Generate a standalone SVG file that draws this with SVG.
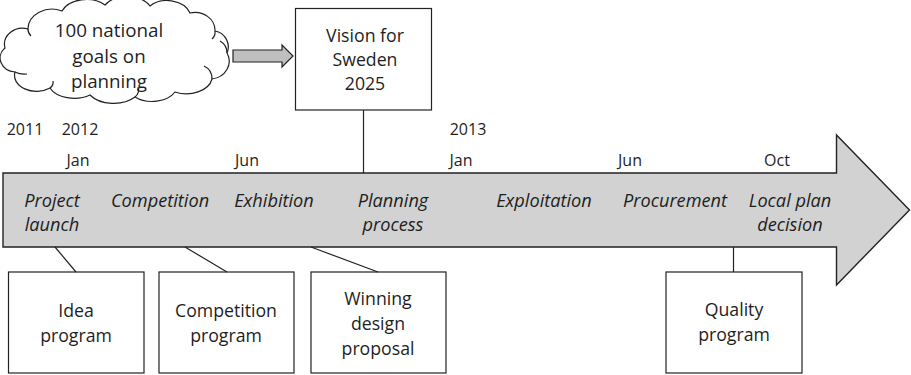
<svg xmlns="http://www.w3.org/2000/svg" width="911" height="375" viewBox="0 0 911 375">
<style>
.t{font-family:"Open Sans","Liberation Sans",sans-serif;font-size:17.7px;fill:#1e1e1e;text-anchor:middle}
.c{font-size:18.8px}
.i{font-style:italic;font-size:18.2px}
.s{font-size:16px}
.box{fill:#fff;stroke:#222;stroke-width:1.2}
.ln{stroke:#222;stroke-width:1.2;fill:none}
</style>
<rect width="911" height="375" fill="#fff"/>
<g id="timeline">
<path d="M3,173 H836.5 V135 L909.5,210 L836.5,285 V247 H3 Z" fill="#d1d2d1" stroke="#222" stroke-width="1.4"/>
<text class="t s" x="25" y="135">2011</text>
<text class="t s" x="80" y="135">2012</text>
<text class="t s" x="468" y="135">2013</text>
<text class="t s" x="78" y="166">Jan</text>
<text class="t s" x="247" y="166">Jun</text>
<text class="t s" x="461" y="166">Jan</text>
<text class="t s" x="630" y="166">Jun</text>
<text class="t s" x="777" y="166">Oct</text>
<text class="t i" x="52" y="207">Project</text>
<text class="t i" x="52" y="231">launch</text>
<text class="t i" x="160" y="207">Competition</text>
<text class="t i" x="274" y="207">Exhibition</text>
<text class="t i" x="393" y="207">Planning</text>
<text class="t i" x="393" y="231">process</text>
<text class="t i" x="544" y="207">Exploitation</text>
<text class="t i" x="675" y="207">Procurement</text>
<text class="t i" x="790" y="207">Local plan</text>
<text class="t i" x="790" y="231">decision</text>
</g>
<g id="cloud">
<path d="M28,29 A24,20 0 0 1 62,11 A26,18 0 0 1 105,5 A26,18 0 0 1 150,6 A24,18 0 0 1 190,13 A20,18 0 0 1 215,31 A16,16 0 0 1 227,53 A20,18 0 0 1 212,79 A26,18 0 0 1 175,92 A26,18 0 0 1 135,97 A28,18 0 0 1 90,95 A26,16 0 0 1 50,88 A22,16 0 0 1 15,72 A16,14 0 0 1 5,48 A18,16 0 0 1 28,29 Z" fill="#fff" stroke="#222" stroke-width="1.2"/>
<path class="ln" d="M15,72 A14,8 0 0 0 27,74"/>
<path class="ln" d="M50,88 A10,8 0 0 0 53,81"/>
<path class="ln" d="M135,97 A12,10 0 0 0 138,87"/>
<path class="ln" d="M212,79 A14,14 0 0 0 204,66"/>
<path class="ln" d="M227,53 A16,14 0 0 0 220,41"/>
<path class="ln" d="M215,31 A12,10 0 0 1 212,39"/>
<path class="ln" d="M28,29 A12,10 0 0 0 31,36"/>
<text class="t c" x="109" y="37">100 national</text>
<text class="t c" x="109" y="63">goals on</text>
<text class="t c" x="109" y="88">planning</text>
</g>
<g id="vision">
<rect class="box" x="295.5" y="8.5" width="136" height="101.5"/>
<text class="t" x="365" y="42">Vision for</text>
<text class="t" x="365" y="66">Sweden</text>
<text class="t" x="365" y="90">2025</text>
</g>
<g id="idea">
<rect class="box" x="8.5" y="272" width="135.5" height="101"/>
<text class="t" x="76" y="317">Idea</text>
<text class="t" x="76" y="342">program</text>
</g>
<g id="competition">
<rect class="box" x="159" y="272" width="135" height="101"/>
<text class="t" x="226" y="317">Competition</text>
<text class="t" x="226" y="342">program</text>
</g>
<g id="winning">
<rect class="box" x="311" y="272" width="135" height="101"/>
<text class="t" x="378" y="305">Winning</text>
<text class="t" x="378" y="330">design</text>
<text class="t" x="378" y="355">proposal</text>
</g>
<g id="quality">
<rect class="box" x="666" y="272" width="136" height="101"/>
<text class="t" x="734" y="316">Quality</text>
<text class="t" x="734" y="341">program</text>
</g>
<g id="connectors">
<path d="M233,50 H282 V45 L293,56 L282,67 V62 H233 Z" fill="#bfbfbf" stroke="#222" stroke-width="1.2"/>
<line class="ln" x1="363.5" y1="110" x2="363.5" y2="173"/>
<line class="ln" x1="55" y1="247" x2="76" y2="272"/>
<line class="ln" x1="185" y1="247" x2="227" y2="272"/>
<line class="ln" x1="311" y1="247" x2="378" y2="272"/>
<line class="ln" x1="733.5" y1="247" x2="733.5" y2="272"/>
</g>
</svg>
